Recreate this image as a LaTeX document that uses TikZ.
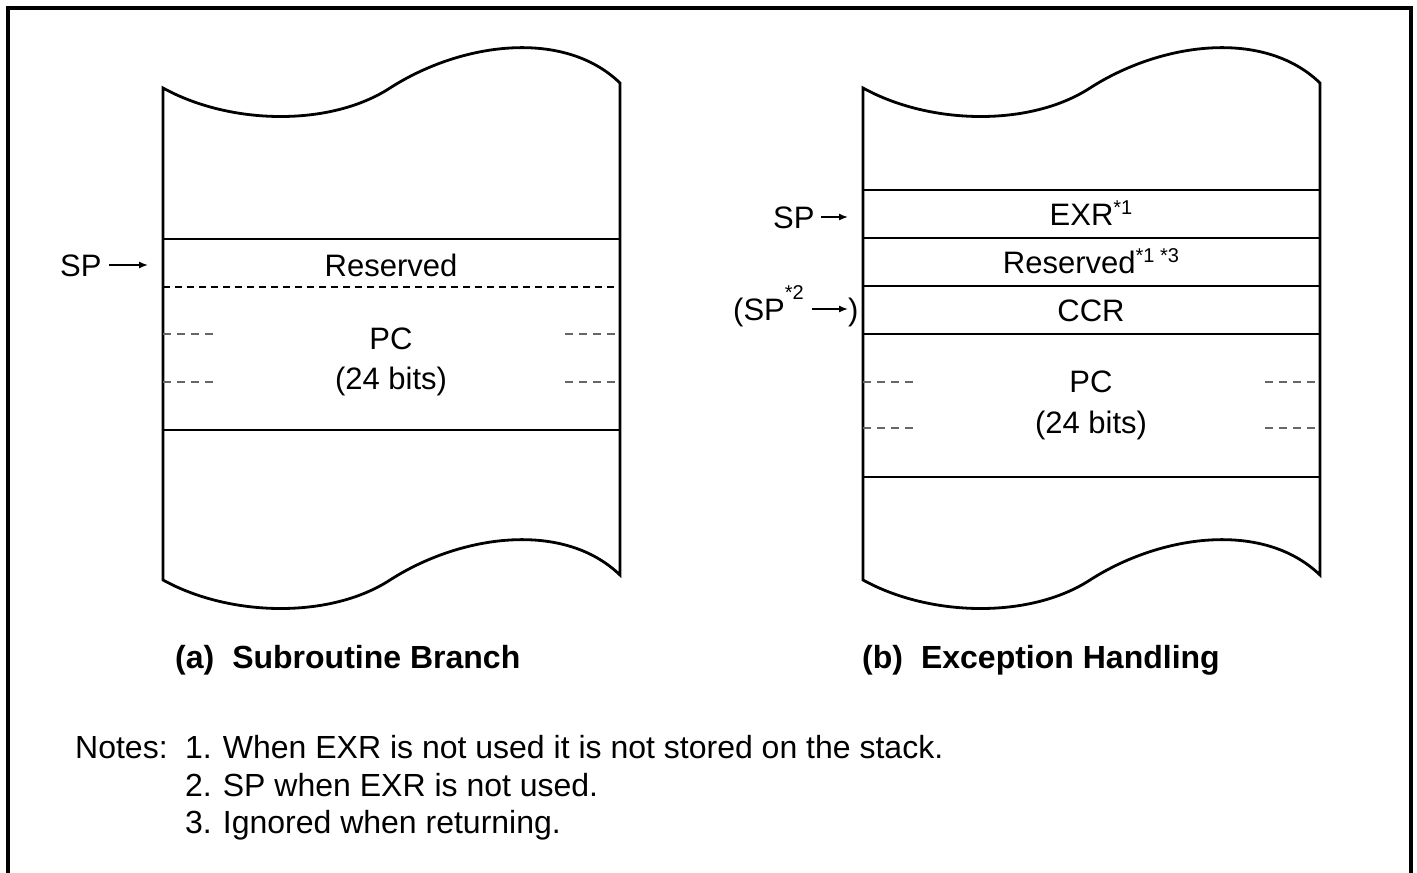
\documentclass[tikz,border=0pt]{standalone}
\usepackage{fontspec}
\setmainfont{Liberation Sans}
\usetikzlibrary{arrows.meta}
\newcommand\supx[2][11pt]{\raisebox{#1}{\fontsize{20}{20}\selectfont #2}}
\begin{document}
\begin{tikzpicture}[x=1pt,y=-1pt,
  txt/.style={font=\fontsize{31}{36}\selectfont, inner sep=0pt, anchor=base},
  txtw/.style={txt, anchor=base west},
  notetext/.style={font=\fontsize{32}{36}\selectfont, inner sep=0pt, anchor=base west},
  captext/.style={font=\fontsize{32}{36}\selectfont\bfseries, inner sep=0pt, anchor=base west},
  boxline/.style={line width=2.8pt},
  thindash/.style={line width=1.2pt, dash pattern=on 7pt off 5pt},
  shortdash/.style={line width=1.3pt, black!60, dash pattern=on 7.5pt off 6.5pt},
  ptr/.style={line width=1.4pt, -{Latex[length=9pt,width=7pt]}},
  stackbox/.pic={
    \draw[boxline, line join=miter] (0,88) .. controls (67,125) and (167,127) .. (227,88)
      .. controls (297,43) and (400,28) .. (457,83) -- (457,575)
      .. controls (400,520) and (297,535) .. (227,580)
      .. controls (167,619) and (67,617) .. (0,580) -- cycle;
  }]
\useasboundingbox (0,0) rectangle (1417,873);
\draw[line width=4pt] (8,890) -- (8,8) -- (1411,8) -- (1411,890);

% ---------- (a) ----------
\pic at (163,0) {stackbox};
\draw[boxline] (163,239) -- (620,239);
\draw[thindash] (163,287) -- (620,287);
\draw[boxline] (163,430) -- (620,430);
\draw[shortdash] (163,334) -- (213,334);
\draw[shortdash] (565,334) -- (615,334);
\draw[shortdash] (163,382) -- (213,382);
\draw[shortdash] (565,382) -- (615,382);
\node[txt] (resa) at (391,276) {Reserved};
\node[txt] (pca) at (391,349) {PC};
\node[txt] (bitsa) at (391,389) {(24 bits)};
\node[txtw] (spa) at (60,276) {SP};
\coordinate (spat) at (148,265);
\draw[ptr] ([xshift=7pt]spa.east |- spat) -- (spat);
\node[captext] (capa) at (175,668) {(a)\hspace{18pt}Subroutine Branch};

% ---------- (b) ----------
\pic at (863,0) {stackbox};
\draw[boxline] (863,190) -- (1320,190);
\draw[boxline] (863,238) -- (1320,238);
\draw[boxline] (863,286) -- (1320,286);
\draw[boxline] (863,334) -- (1320,334);
\draw[boxline] (863,477) -- (1320,477);
\draw[shortdash] (863,382) -- (913,382);
\draw[shortdash] (1265,382) -- (1315,382);
\draw[shortdash] (863,428) -- (913,428);
\draw[shortdash] (1265,428) -- (1315,428);
\node[txt] (exr) at (1091,225) {EXR\supx{*1}};
\node[txt] (resb) at (1091,273) {Reserved\supx{*1 *3}};
\node[txt] (ccr) at (1091,321) {CCR};
\node[txt] (pcb) at (1091,392) {PC};
\node[txt] (bitsb) at (1091,433) {(24 bits)};
\node[txtw] (spb) at (773,228) {SP};
\coordinate (spbt) at (848,217);
\draw[ptr] ([xshift=6pt]spb.east |- spbt) -- (spbt);
\node[txtw] (spc) at (733,320) {(SP\supx[21pt]{*2}};
\coordinate (spct) at (848,309);
\draw[ptr] ([xshift=8pt]spc.east |- spct) -- (spct);
\node[txtw] (spcr) at (848,320) {)};
\node[captext] (capb) at (862,668) {(b)\hspace{18pt}Exception Handling};

% ---------- notes ----------
\node[notetext] (notes) at (75,758) {Notes:};
\node[notetext] (n1) at (185,758) {1.\hspace{11pt}When EXR is not used it is not stored on the stack.};
\node[notetext] (n2) at (185,796) {2.\hspace{11pt}SP when EXR is not used.};
\node[notetext] (n3) at (185,833) {3.\hspace{11pt}Ignored when returning.};
\end{tikzpicture}
\end{document}
